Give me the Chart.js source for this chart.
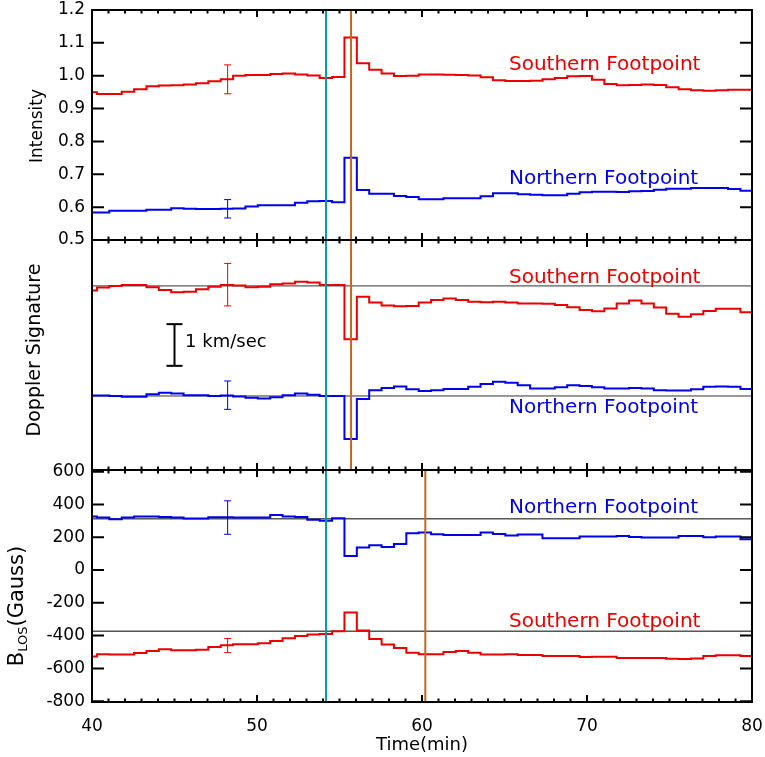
<!DOCTYPE html>
<html>
<head>
<meta charset="utf-8">
<script src="https://cdn.jsdelivr.net/npm/chart.js@4.4.1/dist/chart.umd.min.js"></script>
<style>
  html, body { margin: 0; padding: 0; background: #fff; }
  #wrap { position: relative; width: 765px; height: 757px; }
  #wrap canvas { position: absolute; left: 0; top: 0; }
</style>
</head>
<body>
<div id="wrap">
  <canvas id="intensityChart" width="765" height="757"></canvas>
  <canvas id="dopplerChart" width="765" height="757"></canvas>
  <canvas id="fieldChart" width="765" height="757"></canvas>
</div>
<script>
// bin edges (min), one 45 s step each; last edge closes the final step
const timeEdges = [
  39.55, 40.30, 41.05, 41.80, 42.55, 43.30, 44.05, 44.80, 45.55, 46.30,
  47.05, 47.80, 48.55, 49.30, 50.05, 50.80, 51.55, 52.30, 53.05, 53.80,
  54.55, 55.30, 56.05, 56.80, 57.55, 58.30, 59.05, 59.80, 60.55, 61.30,
  62.05, 62.80, 63.55, 64.30, 65.05, 65.80, 66.55, 67.30, 68.05, 68.80,
  69.55, 70.30, 71.05, 71.80, 72.55, 73.30, 74.05, 74.80, 75.55, 76.30,
  77.05, 77.80, 78.55, 79.30, 80.05
];

const intensitySouth = [
  0.950, 0.944, 0.944, 0.951, 0.959, 0.968, 0.970, 0.971, 0.973, 0.977,
  0.983, 0.989, 1.000, 1.002, 1.002, 1.005, 1.007, 1.004, 1.001, 0.993,
  0.996, 1.116, 1.038, 1.018, 1.007, 0.999, 1.000, 1.004, 1.004, 1.003,
  1.002, 1.001, 0.995, 0.986, 0.984, 0.984, 0.985, 0.989, 0.993, 0.998,
  0.999, 0.988, 0.975, 0.971, 0.972, 0.973, 0.972, 0.965, 0.959, 0.956,
  0.954, 0.956, 0.957, 0.957
];
const intensityNorth = [
  0.584, 0.584, 0.589, 0.589, 0.589, 0.592, 0.592, 0.597, 0.595, 0.594,
  0.594, 0.595, 0.596, 0.602, 0.606, 0.606, 0.606, 0.613, 0.618, 0.619,
  0.615, 0.750, 0.652, 0.641, 0.641, 0.634, 0.631, 0.624, 0.624, 0.627,
  0.627, 0.627, 0.633, 0.642, 0.642, 0.639, 0.638, 0.636, 0.636, 0.641,
  0.645, 0.647, 0.647, 0.646, 0.648, 0.649, 0.653, 0.656, 0.656, 0.658,
  0.658, 0.658, 0.655, 0.650
];

// Doppler velocity, km/s, relative to each footpoint's reference line
const dopplerSouth = [
  -0.11, -0.04, 0.00, 0.02, 0.02, -0.03, -0.10, -0.15, -0.14, -0.08,
  -0.02, 0.02, 0.01, -0.03, -0.02, 0.04, 0.06, 0.10, 0.08, 0.02,
  0.02, -1.28, -0.26, -0.40, -0.47, -0.49, -0.48, -0.40, -0.34, -0.30,
  -0.34, -0.38, -0.39, -0.38, -0.40, -0.42, -0.42, -0.43, -0.46, -0.51,
  -0.58, -0.61, -0.54, -0.42, -0.35, -0.42, -0.52, -0.67, -0.74, -0.68,
  -0.60, -0.55, -0.55, -0.63
];
const dopplerNorth = [
  0.01, 0.01, 0.00, -0.02, -0.02, 0.04, 0.08, 0.06, 0.02, 0.02,
  0.00, 0.01, -0.01, -0.04, -0.06, -0.03, 0.02, 0.06, 0.03, 0.00,
  0.00, -1.03, -0.07, 0.14, 0.19, 0.23, 0.16, 0.12, 0.14, 0.17,
  0.17, 0.22, 0.29, 0.34, 0.32, 0.26, 0.18, 0.18, 0.21, 0.26,
  0.24, 0.21, 0.18, 0.18, 0.19, 0.18, 0.14, 0.13, 0.13, 0.16,
  0.22, 0.23, 0.22, 0.17
];

// line-of-sight field, Gauss
const fieldNorth = [
  327, 320, 310, 320, 327, 327, 324, 320, 314, 314,
  322, 322, 320, 320, 320, 335, 327, 324, 306, 300,
  316, 86, 137, 151, 141, 159, 224, 229, 218, 214,
  214, 214, 229, 220, 210, 216, 216, 194, 194, 194,
  204, 204, 204, 208, 202, 198, 198, 198, 208, 208,
  200, 204, 204, 188
];
const fieldSouth = [
  -527, -514, -516, -516, -506, -494, -484, -490, -490, -486,
  -469, -459, -453, -453, -447, -433, -416, -402, -394, -390,
  -373, -259, -369, -420, -455, -476, -504, -514, -514, -500,
  -494, -504, -516, -516, -514, -518, -518, -525, -525, -525,
  -531, -529, -529, -537, -537, -537, -537, -541, -543, -539,
  -525, -520, -520, -525
];
const fieldRefNorth = 312;
const fieldRefSouth = -373;

// event markers (min)
const eventTimes = [54.18, 55.7, 60.2];

// representative error bars: [center, half-width]
const errTime = 48.22;
const intensityErrSouth = [0.989, 0.044];
const intensityErrNorth = [0.595, 0.028];
const dopplerErrSouth = [0.03, 0.51];
const dopplerErrNorth = [0.02, 0.34];
const fieldErrNorth = [320, 102];
const fieldErrSouth = [-461, 43];

const timeTicks = [40, 50, 60, 70, 80];
const intensityTicks = [0.5, 0.6, 0.7, 0.8, 0.9, 1.0, 1.1, 1.2];
const fieldTicks = [-800, -600, -400, -200, 0, 200, 400, 600];

// ---- style / layout ----
const RED = 'rgb(235,0,0)';
const BLUE = 'rgb(0,0,235)';
const CYAN = 'rgb(0,158,168)';
const ORANGE = 'rgb(196,102,28)';
const PLOT_LEFT = 92, PLOT_RIGHT = 752, W = 765, H = 757;
const SOUTH_OFFSET = 2.64; // stacking offset of the southern Doppler trace, km/s
const FONT = "'DejaVu Sans', sans-serif";

Chart.defaults.font.family = FONT;
Chart.defaults.color = '#000';

function stepData(values, offset = 0) {
  // value k holds from edge k to edge k+1 (last edge repeats the last value)
  return timeEdges.map((t, i) => ({ x: t, y: values[Math.min(i, values.length - 1)] + offset }));
}

function stepSet(values, color, offset = 0) {
  return { data: stepData(values, offset), borderColor: color, borderWidth: 2, stepped: 'before', pointRadius: 0 };
}

function vLine(t, lo, hi, color) {
  return { data: [{ x: t, y: lo }, { x: t, y: hi }], borderColor: color, borderWidth: 2, pointRadius: 0 };
}

function hLine(v, color) {
  return { data: [{ x: 40, y: v }, { x: 80, y: v }], borderColor: color, borderWidth: 1, pointRadius: 0 };
}

function errBar(t, err, color, offset = 0, width = 1, cap = 3.5) {
  const [c, h] = err;
  return {
    data: [{ x: t, y: c - h + offset }, { x: t, y: c + h + offset }],
    borderColor: color, borderWidth: width,
    pointStyle: 'line', pointRadius: cap, pointBorderWidth: width, pointBorderColor: color, pointHoverRadius: cap
  };
}

// per-panel decorations, kept outside chart options
const decorById = {};

const panelDecor = {
  id: 'panelDecor',
  afterDraw(chart) {
    const d = decorById[chart.canvas.id];
    const { ctx, chartArea: a, scales: { x, y } } = chart;
    ctx.save();
    ctx.strokeStyle = '#000';
    ctx.lineWidth = 2;
    ctx.strokeRect(a.left, a.top, a.right - a.left, a.bottom - a.top);

    ctx.beginPath();
    for (let v = x.min; v <= x.max; v += 1) {
      const px = x.getPixelForValue(v);
      const len = v % 10 === 0 ? 7 : 3.5;
      ctx.moveTo(px, a.bottom); ctx.lineTo(px, a.bottom - len);
      ctx.moveTo(px, a.top); ctx.lineTo(px, a.top + len);
    }
    if (d.yTicks) {
      y.ticks.forEach(t => {
        const py = y.getPixelForValue(t.value);
        ctx.moveTo(a.left, py); ctx.lineTo(a.left + 12, py);
        ctx.moveTo(a.right, py); ctx.lineTo(a.right - 12, py);
      });
    }
    ctx.stroke();

    d.labels.forEach(l => {
      ctx.font = (l.size || 20) + 'px ' + FONT;
      ctx.fillStyle = l.color;
      ctx.textAlign = 'left';
      ctx.textBaseline = 'alphabetic';
      ctx.fillText(l.text, x.getPixelForValue(l.x), y.getPixelForValue(l.y));
    });

    const tt = d.title;
    ctx.translate(tt.cx, tt.cy);
    ctx.rotate(-Math.PI / 2);
    ctx.fillStyle = '#000';
    ctx.textBaseline = 'middle';
    ctx.textAlign = 'left';
    const widths = tt.parts.map(p => { ctx.font = p.size + 'px ' + FONT; return ctx.measureText(p.text).width; });
    let pos = -widths.reduce((s, w) => s + w, 0) / 2;
    tt.parts.forEach((p, i) => {
      ctx.font = p.size + 'px ' + FONT;
      ctx.fillText(p.text, pos, p.shift || 0);
      pos += widths[i];
    });
    ctx.restore();
  }
};

function makePanel(id, p) {
  decorById[id] = p.decor;
  const xOpts = p.showX ? {
    type: 'linear', min: 40, max: 80, display: true,
    grid: { display: false }, border: { display: false },
    afterBuildTicks: s => { s.ticks = timeTicks.map(v => ({ value: v })); },
    afterFit: s => { s.height = H - p.bottom; s.paddingLeft = 0; s.paddingRight = 0; },
    ticks: { font: { size: 17 }, color: '#000', padding: 6, maxRotation: 0 },
    title: { display: true, text: 'Time(min)', font: { size: 18 }, color: '#000', padding: { top: 0, bottom: 1 } }
  } : { type: 'linear', min: 40, max: 80, display: false };

  return new Chart(document.getElementById(id), {
    type: 'line',
    data: { datasets: p.datasets },
    options: {
      responsive: false,
      animation: false,
      devicePixelRatio: 1,
      events: [],
      layout: { padding: { left: 0, right: W - PLOT_RIGHT, top: p.top, bottom: p.showX ? 0 : H - p.bottom } },
      elements: { line: { tension: 0, borderJoinStyle: 'miter', borderCapStyle: 'butt' } },
      plugins: { legend: { display: false }, tooltip: { enabled: false } },
      scales: {
        x: xOpts,
        y: {
          type: 'linear', min: p.yMin, max: p.yMax,
          grid: { display: false, drawTicks: false }, border: { display: false },
          afterBuildTicks: s => { if (p.yTicks) s.ticks = p.yTicks.map(v => ({ value: v })); },
          afterFit: s => { s.width = PLOT_LEFT; s.paddingTop = 0; s.paddingBottom = 0; },
          ticks: { display: !!p.yTicks, font: { size: 17 }, color: '#000', padding: 7, callback: p.yFormat || (v => String(v)) }
        }
      }
    },
    plugins: [panelDecor]
  });
}

// ---- Intensity ----
const iMin = 0.5, iMax = 1.2;
makePanel('intensityChart', {
  top: 10, bottom: 240, yMin: iMin, yMax: iMax, yTicks: intensityTicks,
  yFormat: v => v.toFixed(1),
  datasets: [
    vLine(eventTimes[1], iMin, iMax, ORANGE),
    vLine(eventTimes[0], iMin, iMax, CYAN),
    errBar(errTime, intensityErrSouth, RED),
    errBar(errTime, intensityErrNorth, BLUE),
    stepSet(intensitySouth, RED),
    stepSet(intensityNorth, BLUE)
  ],
  decor: {
    yTicks: true,
    labels: [
      { text: 'Southern Footpoint', x: 65.27, y: 1.018, color: RED },
      { text: 'Northern Footpoint', x: 65.27, y: 0.670, color: BLUE }
    ],
    title: { cx: 38, cy: 126, parts: [{ text: 'Intensity', size: 17 }] }
  }
});

// ---- Doppler ----
const dMin = -1.775, dMax = 3.741;
makePanel('dopplerChart', {
  top: 240, bottom: 470, yMin: dMin, yMax: dMax, yTicks: null,
  datasets: [
    vLine(eventTimes[1], dMin, dMax, ORANGE),
    vLine(eventTimes[0], dMin, dMax, CYAN),
    errBar(errTime, dopplerErrSouth, RED, SOUTH_OFFSET),
    errBar(errTime, dopplerErrNorth, BLUE),
    errBar(45.0, [1.223, 0.5], '#000', 0, 2, 8),
    stepSet(dopplerSouth, RED, SOUTH_OFFSET),
    stepSet(dopplerNorth, BLUE),
    hLine(SOUTH_OFFSET, '#333'),
    hLine(0, '#333')
  ],
  decor: {
    yTicks: false,
    labels: [
      { text: 'Southern Footpoint', x: 65.27, y: 2.71, color: RED },
      { text: 'Northern Footpoint', x: 65.27, y: -0.41, color: BLUE },
      { text: '1 km/sec', x: 45.64, y: 1.18, color: '#000', size: 18 }
    ],
    title: { cx: 35, cy: 350, parts: [{ text: 'Doppler Signature', size: 19 }] }
  }
});

// ---- B_LOS ----
const bMin = -805, bMax = 610;
makePanel('fieldChart', {
  top: 470, bottom: 702, yMin: bMin, yMax: bMax, yTicks: fieldTicks, showX: true,
  datasets: [
    vLine(eventTimes[2], bMin, bMax, ORANGE),
    vLine(eventTimes[0], bMin, bMax, CYAN),
    errBar(errTime, fieldErrNorth, BLUE),
    errBar(errTime, fieldErrSouth, RED),
    stepSet(fieldNorth, BLUE),
    stepSet(fieldSouth, RED),
    hLine(fieldRefNorth, '#000'),
    hLine(fieldRefSouth, '#000')
  ],
  decor: {
    yTicks: true,
    labels: [
      { text: 'Northern Footpoint', x: 65.27, y: 349, color: BLUE },
      { text: 'Southern Footpoint', x: 65.27, y: -349, color: RED }
    ],
    title: {
      cx: 18, cy: 606,
      parts: [
        { text: 'B', size: 21 },
        { text: 'LOS', size: 13, shift: 6 },
        { text: '(Gauss)', size: 21 }
      ]
    }
  }
});
</script>
</body>
</html>
